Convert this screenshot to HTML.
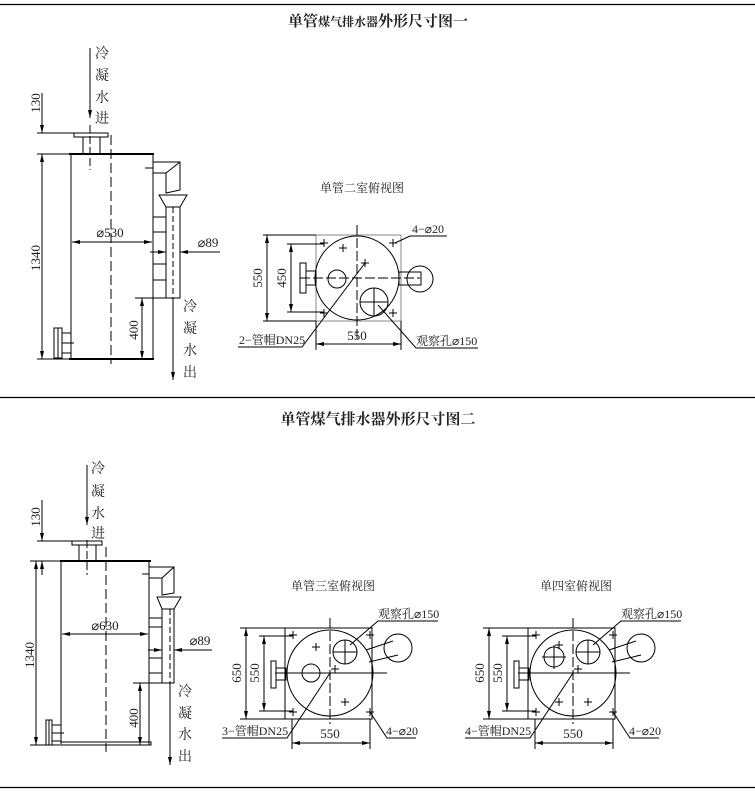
<!DOCTYPE html>
<html><head><meta charset="utf-8"><style>
html,body{margin:0;padding:0;background:#fff}
svg{display:block}
text{font-family:"Liberation Serif","Noto Serif CJK SC",serif;fill:#222}
.c{font-family:"Liberation Serif","Noto Serif CJK SC",serif;font-size:12px}
.v{font-family:"Liberation Serif","Noto Serif CJK SC",serif;font-size:14px}
.t{font-family:"Liberation Serif","Noto Serif CJK SC",serif;font-size:15px;font-weight:bold}
.d{font-size:13px}
</style></head><body>
<svg width="755" height="797" viewBox="0 0 755 797" xmlns="http://www.w3.org/2000/svg">
<defs>
<marker id="a" markerWidth="8" markerHeight="6" refX="8" refY="3" orient="auto" markerUnits="userSpaceOnUse"><path d="M0,1 L8,3 L0,5z" fill="#000"/></marker>
<marker id="b" markerWidth="8" markerHeight="6" refX="0" refY="3" orient="auto" markerUnits="userSpaceOnUse"><path d="M8,1 L0,3 L8,5z" fill="#000"/></marker>
</defs>
<g stroke="#000" fill="none" stroke-width="1">
<line x1="0" y1="4.5" x2="755" y2="4.5" stroke-width="1.3"/>
<line x1="0" y1="397.5" x2="755" y2="397.5" stroke-width="1.3"/>
<line x1="0" y1="787.5" x2="755" y2="787.5" stroke-width="1.3"/>
</g>
<text x="378" y="26" text-anchor="middle" class="t">单管<tspan font-size="12">煤气排水器</tspan>外形尺寸图一</text>
<text x="378" y="424" text-anchor="middle" class="t">单管煤气排水器外形尺寸图二</text>

<!-- Elevation 1 -->
<g stroke="#000" fill="none" stroke-width="1">
<rect x="71" y="154" width="82" height="205"/>
<line x1="69" y1="154" x2="154" y2="154" stroke-width="2"/>
<line x1="69" y1="359" x2="154" y2="359" stroke-width="2"/>
<rect x="74" y="133" width="34" height="4"/>
<rect x="83" y="137" width="17" height="17"/>
<line x1="111" y1="135" x2="111" y2="364" stroke-dasharray="10,4"/>
<line x1="90" y1="125" x2="90" y2="170" stroke-dasharray="8,3"/>
<line x1="90" y1="48" x2="90" y2="118" marker-end="url(#a)"/>
<line x1="42" y1="93" x2="42" y2="133" marker-end="url(#a)"/>
<line x1="37" y1="133" x2="108" y2="133"/>
<line x1="37" y1="154" x2="70" y2="154"/>
<line x1="42" y1="154" x2="42" y2="359" marker-start="url(#b)" marker-end="url(#a)"/>
<line x1="37" y1="359" x2="70" y2="359"/>
<line x1="72" y1="242" x2="152" y2="242" marker-start="url(#b)" marker-end="url(#a)"/>
<path d="M153,162 H180 V190 L166,193 V173 H153 M166,173 L180,162"/>
<line x1="145" y1="168" x2="153" y2="168"/>
<path d="M159,195 H187 L180,207 H166 Z"/>
<path d="M166,207 V298 H180 V207"/>
<line x1="173" y1="207" x2="173" y2="298" stroke-dasharray="6,3"/>
<path d="M153,217 H166 M153,232 H166 M153,264 H166 M153,280 H166"/>
<line x1="150" y1="252" x2="166" y2="252" marker-end="url(#a)"/>
<line x1="220" y1="252" x2="180" y2="252" marker-end="url(#a)"/>
<line x1="135" y1="298" x2="166" y2="298"/>
<line x1="142" y1="298" x2="142" y2="359" marker-start="url(#b)" marker-end="url(#a)"/>
<line x1="173" y1="298" x2="173" y2="380" marker-end="url(#a)"/>
<rect x="54" y="328" width="8" height="30"/>
<line x1="58" y1="328" x2="58" y2="358"/>
<rect x="62" y="333" width="9" height="20"/>
<line x1="62" y1="343" x2="74" y2="343"/>
</g>
<g class="v">
<text x="102" y="58" text-anchor="middle">冷</text><text x="102" y="80" text-anchor="middle">凝</text><text x="102" y="102" text-anchor="middle">水</text><text x="102" y="123" text-anchor="middle">进</text>
<text x="190" y="311" text-anchor="middle">冷</text><text x="190" y="333" text-anchor="middle">凝</text><text x="190" y="355" text-anchor="middle">水</text><text x="190" y="377" text-anchor="middle">出</text>
</g>
<g class="d">
<text transform="translate(40,103) rotate(-90)" text-anchor="middle">130</text>
<text transform="translate(40,258) rotate(-90)" text-anchor="middle">1340</text>
<text transform="translate(138,330) rotate(-90)" text-anchor="middle">400</text>
<text x="110" y="237" text-anchor="middle">⌀530</text>
<text x="208" y="247" text-anchor="middle">⌀89</text>
</g>

<!-- Top view 1 -->
<text x="362" y="192" text-anchor="middle" class="c">单管二室俯视图</text>
<g stroke="#000" fill="none" stroke-width="1">
<rect x="316" y="235" width="85" height="86" stroke="#888"/>
<circle cx="357" cy="278" r="42"/>
<line x1="357" y1="225" x2="357" y2="340" stroke-dasharray="10,3"/>
<line x1="300" y1="278" x2="420" y2="278" stroke-dasharray="10,3"/>
<rect x="300" y="263" width="6" height="30"/>
<rect x="306" y="271" width="10" height="14"/>
<rect x="399" y="272" width="22" height="13"/>
<circle cx="420" cy="279" r="13"/>
<circle cx="337" cy="279" r="9"/>
<circle cx="374" cy="302" r="14"/>
<path d="M374,288 V316 M360,302 H388"/>
<path d="M320,243h8M324,239v8 M389,243h8M393,239v8 M320,313h8M324,309v8 M389,313h8M393,309v8 M339,248h8M343,244v8 M361,263h8M365,259v8"/>
<line x1="263" y1="235" x2="316" y2="235"/>
<line x1="263" y1="321" x2="316" y2="321"/>
<line x1="267" y1="235" x2="267" y2="321" marker-start="url(#b)" marker-end="url(#a)"/>
<line x1="287" y1="244" x2="324" y2="244"/>
<line x1="287" y1="312" x2="324" y2="312"/>
<line x1="291" y1="244" x2="291" y2="312" marker-start="url(#b)" marker-end="url(#a)"/>
<line x1="316" y1="321" x2="316" y2="350"/>
<line x1="401" y1="321" x2="401" y2="350"/>
<line x1="316" y1="344" x2="401" y2="344" marker-start="url(#b)" marker-end="url(#a)"/>
<path d="M238,347 H302 L365,263"/>
<path d="M447,236 H410 L395,243"/>
<path d="M478,348 H416 L378,305"/>
</g>
<g class="d">
<text transform="translate(262,278) rotate(-90)" text-anchor="middle">550</text>
<text transform="translate(286,278) rotate(-90)" text-anchor="middle">450</text>
<text x="357" y="340" text-anchor="middle">550</text>
<text x="239" y="344" class="c">2−管帽DN25</text>
<text x="412" y="233" class="c">4−⌀20</text>
<text x="416" y="345" class="c">观察孔⌀150</text>
</g>

<!-- Elevation 2 -->
<g stroke="#000" fill="none" stroke-width="1">
<rect x="61" y="561" width="88" height="184"/>
<line x1="60" y1="561" x2="151" y2="561" stroke-width="2"/>
<rect x="61" y="742" width="90" height="3"/>
<rect x="72" y="541" width="30" height="4"/>
<rect x="79" y="545" width="17" height="16"/>
<line x1="106" y1="547" x2="106" y2="752" stroke-dasharray="10,4"/>
<line x1="87" y1="540" x2="87" y2="575" stroke-dasharray="8,3"/>
<line x1="87" y1="465" x2="87" y2="525" marker-end="url(#a)"/>
<line x1="42" y1="500" x2="42" y2="541" marker-end="url(#a)"/>
<line x1="42" y1="561" x2="42" y2="575" marker-start="url(#b)"/>
<line x1="37" y1="541" x2="100" y2="541"/>
<line x1="30" y1="561" x2="60" y2="561"/>
<line x1="36" y1="561" x2="36" y2="745" marker-start="url(#b)" marker-end="url(#a)"/>
<line x1="30" y1="745" x2="60" y2="745"/>
<line x1="62" y1="634" x2="148" y2="634" marker-start="url(#b)" marker-end="url(#a)"/>
<path d="M149,567 H174 V593 L162,595 V578 H149 M162,578 L174,567"/>
<line x1="142" y1="574" x2="149" y2="574"/>
<path d="M157,597 H181 L174,609 H162 Z"/>
<path d="M162,609 V683 H174 V609"/>
<line x1="170" y1="609" x2="170" y2="683" stroke-dasharray="6,3"/>
<path d="M149,618 H162 M149,627 H162 M149,658 H162 M149,673 H162"/>
<line x1="148" y1="650" x2="162" y2="650" marker-end="url(#a)"/>
<line x1="212" y1="650" x2="174" y2="650" marker-end="url(#a)"/>
<line x1="133" y1="683" x2="162" y2="683"/>
<line x1="140" y1="683" x2="140" y2="745" marker-start="url(#b)" marker-end="url(#a)"/>
<line x1="170" y1="683" x2="170" y2="765" marker-end="url(#a)"/>
<rect x="46" y="720" width="6" height="25"/>
<line x1="49" y1="720" x2="49" y2="745"/>
<rect x="52" y="725" width="9" height="16"/>
<line x1="52" y1="733" x2="64" y2="733"/>
</g>
<g class="v">
<text x="98" y="473" text-anchor="middle">冷</text><text x="98" y="496" text-anchor="middle">凝</text><text x="98" y="518" text-anchor="middle">水</text><text x="98" y="538" text-anchor="middle">进</text>
<text x="185" y="696" text-anchor="middle">冷</text><text x="185" y="718" text-anchor="middle">凝</text><text x="185" y="739" text-anchor="middle">水</text><text x="185" y="761" text-anchor="middle">出</text>
</g>
<g class="d">
<text transform="translate(40,517) rotate(-90)" text-anchor="middle">130</text>
<text transform="translate(34,655) rotate(-90)" text-anchor="middle">1340</text>
<text transform="translate(138,718) rotate(-90)" text-anchor="middle">400</text>
<text x="105" y="630" text-anchor="middle">⌀630</text>
<text x="200" y="645" text-anchor="middle">⌀89</text>
</g>

<!-- Top view 2 -->
<text x="333" y="590" text-anchor="middle" class="c">单管三室俯视图</text>
<g stroke="#000" fill="none" stroke-width="1">
<rect x="285" y="628" width="87" height="91"/>
<circle cx="330" cy="673" r="43"/>
<line x1="330" y1="618" x2="330" y2="724" stroke-dasharray="10,3"/>
<line x1="275" y1="673" x2="387" y2="673"/>
<rect x="271" y="661" width="5" height="27"/>
<rect x="276" y="668" width="10" height="12"/>
<circle cx="311" cy="673" r="9"/>
<circle cx="345" cy="652" r="12"/>
<path d="M345,640 V664 M333,652 H357"/>
<path d="M366,650 L393,641 M369,662 L398,655"/>
<circle cx="398" cy="648" r="14"/>
<path d="M289,635h8M293,631v8 M366,635h8M370,631v8 M289,712h8M293,708v8 M366,712h8M370,708v8 M312,647h8M316,643v8 M331,669h8M335,665v8 M341,702h8M345,698v8"/>
<line x1="240" y1="628" x2="285" y2="628"/>
<line x1="240" y1="719" x2="285" y2="719"/>
<line x1="246" y1="628" x2="246" y2="719" marker-start="url(#b)" marker-end="url(#a)"/>
<line x1="259" y1="636" x2="293" y2="636"/>
<line x1="259" y1="711" x2="293" y2="711"/>
<line x1="264" y1="636" x2="264" y2="711" marker-start="url(#b)" marker-end="url(#a)"/>
<line x1="292" y1="719" x2="292" y2="749"/>
<line x1="370" y1="719" x2="370" y2="749"/>
<line x1="292" y1="743" x2="370" y2="743" marker-start="url(#b)" marker-end="url(#a)"/>
<path d="M222,738 H287 L330,673"/>
<path d="M416,738 H387 L370,712"/>
<path d="M438,621 H378 L350,645"/>
</g>
<g class="d">
<text transform="translate(241,673) rotate(-90)" text-anchor="middle">650</text>
<text transform="translate(259,673) rotate(-90)" text-anchor="middle">550</text>
<text x="330" y="738" text-anchor="middle">550</text>
<text x="222" y="735" class="c">3−管帽DN25</text>
<text x="386" y="735" class="c">4−⌀20</text>
<text x="378" y="618" class="c">观察孔⌀150</text>
</g>

<!-- Top view 3 -->
<text x="576" y="590" text-anchor="middle" class="c">单四室俯视图</text>
<g stroke="#000" fill="none" stroke-width="1">
<rect x="528" y="628" width="87" height="91"/>
<circle cx="573" cy="673" r="43"/>
<line x1="573" y1="618" x2="573" y2="724" stroke-dasharray="10,3"/>
<line x1="518" y1="673" x2="630" y2="673"/>
<rect x="514" y="661" width="5" height="27"/>
<rect x="519" y="668" width="10" height="12"/>
<circle cx="554" cy="657" r="10"/>
<path d="M554,645 V669 M542,657 H566"/>
<circle cx="588" cy="652" r="12"/>
<path d="M588,640 V664 M576,652 H600"/>
<path d="M609,650 L636,641 M612,662 L641,655"/>
<circle cx="641" cy="648" r="14"/>
<path d="M532,635h8M536,631v8 M609,635h8M613,631v8 M532,712h8M536,708v8 M609,712h8M613,708v8 M555,645h8M559,641v8 M574,669h8M578,665v8 M555,702h8M559,698v8 M584,702h8M588,698v8"/>
<line x1="483" y1="628" x2="528" y2="628"/>
<line x1="483" y1="719" x2="528" y2="719"/>
<line x1="489" y1="628" x2="489" y2="719" marker-start="url(#b)" marker-end="url(#a)"/>
<line x1="502" y1="636" x2="536" y2="636"/>
<line x1="502" y1="711" x2="536" y2="711"/>
<line x1="507" y1="636" x2="507" y2="711" marker-start="url(#b)" marker-end="url(#a)"/>
<line x1="535" y1="719" x2="535" y2="749"/>
<line x1="613" y1="719" x2="613" y2="749"/>
<line x1="535" y1="743" x2="613" y2="743" marker-start="url(#b)" marker-end="url(#a)"/>
<path d="M465,738 H530 L573,673"/>
<path d="M659,738 H630 L613,712"/>
<path d="M681,621 H621 L593,645"/>
</g>
<g class="d">
<text transform="translate(484,673) rotate(-90)" text-anchor="middle">650</text>
<text transform="translate(502,673) rotate(-90)" text-anchor="middle">550</text>
<text x="573" y="738" text-anchor="middle">550</text>
<text x="465" y="735" class="c">4−管帽DN25</text>
<text x="629" y="735" class="c">4−⌀20</text>
<text x="621" y="618" class="c">观察孔⌀150</text>
</g>
</svg>
</body></html>
